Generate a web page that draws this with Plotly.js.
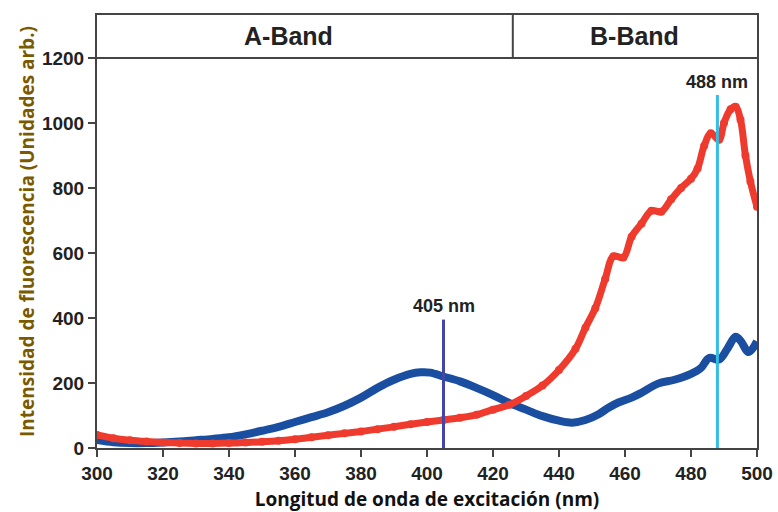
<!DOCTYPE html>
<html>
<head>
<meta charset="utf-8">
<script src="https://cdn.plot.ly/plotly-3.0.1.min.js"></script>
<style>html,body{margin:0;padding:0;background:#fff;}#chart{width:778px;height:512px;}</style>
</head>
<body>
<div id="chart"></div>
<script>
// Blue curve (405 nm excitation peak, A-Band)
const blueX = [300,305,310,315,320,325,330,335,340,345,350,355,360,365,370,375,380,385,390,395,398,401,405,410,415,420,425,430,435,440,444,448,452,455,458,462,465,470,475,480,483,485.5,488.5,491,493.5,495,497.5,500];
const blueY = [25,18,15,15,17,20,24,28,33,42,53,65,80,95,110,130,155,185,210,228,233,232,220,205,185,163,138,118,98,84,78,86,104,124,140,155,170,198,210,228,246,277,272,305,342,330,295,328];
// Red curve (488 nm excitation peak, B-Band)
const redX = [300,305,310,315,320,325,330,335,340,345,350,355,360,365,370,375,380,385,390,395,400,405,410,415,420,425,430,435,440,445,448,451,454,456.5,459.5,462,465,468,471,474,477,480,482,484,486,488.5,490,492,493.5,495,496.5,498,500];
const redY = [40,30,24,20,17,15,14,14,15,17,19,22,27,33,39,45,51,58,65,73,80,86,93,102,118,133,160,192,240,305,370,430,520,590,586,650,690,730,727,765,800,828,860,930,968,948,1000,1042,1050,1010,900,820,742];
// Reference lines
const lineX = [405, 488];
const lineTop = [395, 1086];
const lineLabels = ["405 nm", "488 nm"];
const lineColors = ["#4446a6", "#35bde3"];
// Bands
const bandNames = ["A-Band", "B-Band"];
const bandCenters = [358, 463];
const bandDivider = 426;
const yTicks = [0,200,400,600,800,1000,1200];
const xTicks = [300,320,340,360,380,400,420,440,460,480,500];

const traces = [
  {x: blueX, y: blueY, mode: 'lines', line: {color: '#1a4ea0', width: 8, shape: 'spline'}, hoverinfo: 'skip'},
  {x: redX, y: redY, mode: 'lines+markers', line: {color: '#ee3b2d', width: 7, shape: 'spline'}, marker: {color: '#ee3b2d', size: 8}, hoverinfo: 'skip'}
];

const shapes = [];
lineX.forEach((lx, i) => {
  shapes.push({type: 'line', xref: 'x', yref: 'y', x0: lx, x1: lx, y0: 0, y1: lineTop[i], line: {color: lineColors[i], width: 3}, layer: 'above'});
});
shapes.push({type: 'line', xref: 'x', yref: 'y', x0: 300, x1: 500, y0: 1200, y1: 1200, line: {color: '#444', width: 2}});
shapes.push({type: 'line', xref: 'x', yref: 'y', x0: bandDivider, x1: bandDivider, y0: 1200, y1: 1332, line: {color: '#444', width: 2}});

const annotations = [];
lineX.forEach((lx, i) => {
  annotations.push({x: lx, y: lineTop[i] + 4, xref: 'x', yref: 'y', text: '<b>' + lineLabels[i] + '</b>', showarrow: false, yanchor: 'bottom',
    font: {family: 'Liberation Sans, Arial, sans-serif', size: 18, color: '#222'}});
});
bandNames.forEach((b, i) => {
  annotations.push({x: bandCenters[i], y: 1268, xref: 'x', yref: 'y', text: '<b>' + b + '</b>', showarrow: false,
    font: {family: 'Liberation Sans, Arial, sans-serif', size: 25, color: '#222'}});
});

const layout = {
  width: 778, height: 512,
  margin: {l: 97, r: 21, t: 15, b: 64},
  paper_bgcolor: '#fff', plot_bgcolor: '#fff',
  showlegend: false,
  font: {family: 'Liberation Sans, Arial, sans-serif', color: '#222'},
  xaxis: {
    range: [300, 500], tickvals: xTicks, ticktext: xTicks.map(v => '<b>' + v + '</b>'),
    showgrid: false, zeroline: false, showline: true, linecolor: '#444', linewidth: 2, mirror: true,
    ticks: 'outside', ticklen: 7, tickwidth: 2, tickcolor: '#444',
    tickfont: {size: 19, color: '#222'},
    title: {text: '<b>Longitud de onda de excitación (nm)</b>', font: {family: 'Open Sans, sans-serif', size: 19, color: '#111'}, standoff: 10}
  },
  yaxis: {
    range: [0, 1332], tickvals: yTicks, ticktext: yTicks.map(v => '<b>' + v + '</b>'),
    showgrid: false, zeroline: false, showline: true, linecolor: '#444', linewidth: 2, mirror: true,
    ticks: 'outside', ticklen: 7, tickwidth: 2, tickcolor: '#444',
    tickfont: {size: 19, color: '#222'},
    title: {text: '<b>Intensidad de fluorescencia (Unidades arb.)</b>', font: {family: 'Open Sans, sans-serif', size: 19, color: '#7a5a00'}, standoff: 2}
  },
  shapes: shapes,
  annotations: annotations
};

Plotly.newPlot('chart', traces, layout, {displayModeBar: false, staticPlot: true});
</script>
</body>
</html>
